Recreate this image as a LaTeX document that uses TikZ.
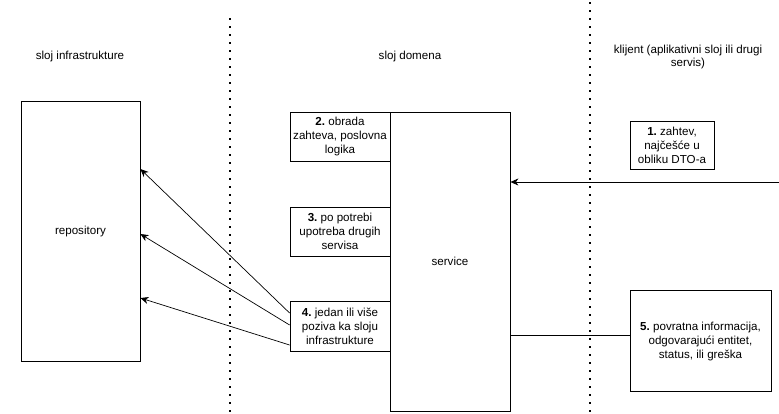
\documentclass[tikz,border=0pt]{standalone}
\usepackage{fontspec}
\setmainfont{Liberation Sans}
\usetikzlibrary{arrows.meta,calc}
\begin{document}
\frenchspacing
\begin{tikzpicture}[x=1pt,y=-1pt,
  every node/.style={font=\fontsize{11.6}{14}\selectfont, inner sep=0pt},
  box/.style={draw, line width=0.8pt, align=center},
  lbl/.style={align=center},
  sep/.style={line width=1.6pt, dash pattern=on 1.6pt off 6.4pt, line cap=butt},
  conn/.style={line width=0.7pt},
  arr/.style={line width=0.7pt, -{Stealth[length=8pt,width=7pt,inset=2.5pt]}}
]
\useasboundingbox (0,0) rectangle (779,413);
% separators
\coordinate (s1t) at (230,18);
\coordinate (s1b) at (230,413);
\coordinate (s2t) at (590,2);
\coordinate (s2b) at (590,413);
\draw[sep] (s1t) -- (s1b);
\draw[sep] (s2t) -- (s2b);
% layer labels
\node[lbl] (l1) at (80,56) {sloj infrastrukture};
\node[lbl] (l2) at (410,56) {sloj domena};
\node[lbl, font=\fontsize{11.6}{13}\selectfont] (l3) at (688,57) {klijent (aplikativni sloj ili drugi\\servis)};
% boxes
\node[box, minimum width=119pt, minimum height=260pt] (repo) at (80.5,231) {repository};
\node[box, minimum width=120pt, minimum height=299pt] (svc) at (450,261.5) {service};
\node[box, minimum width=100pt, minimum height=49pt] (b2) at (340,136.5) {\textbf{2.} obrada\\zahteva, poslovna\\logika};
\node[box, minimum width=100pt, minimum height=49pt] (b3) at (340,231.5) {\textbf{3.} po potrebi\\upotreba drugih\\servisa};
\node[box, minimum width=100pt, minimum height=50pt] (b4) at (340,326) {\textbf{4.} jedan ili više\\poziva ka sloju\\infrastrukture};
\node[box, minimum width=84pt, minimum height=48pt] (b1) at (672,145) {\textbf{1.} zahtev,\\najčešće u\\obliku DTO-a};
\node[box, minimum width=141pt, minimum height=101pt] (b5) at (700.5,341) {\textbf{5.} povratna informacija,\\odgovarajući entitet,\\status, ili greška};
% connectors
\coordinate (in1) at (779,182);
\coordinate (out5) at ([yshift=-73.5pt]svc.east);
\draw[arr] (in1) -- (svc.east |- in1);
\draw[conn] (out5) -- (b5.west |- out5);
\draw[arr] ([yshift=13pt]b4.west) -- ([yshift=62pt]repo.east);
\draw[arr] ([yshift=1pt]b4.west) -- ([yshift=-3pt]repo.east);
\draw[arr] ([yshift=-19pt]b4.west) -- ([yshift=-67pt]repo.east);
\end{tikzpicture}
\end{document}
